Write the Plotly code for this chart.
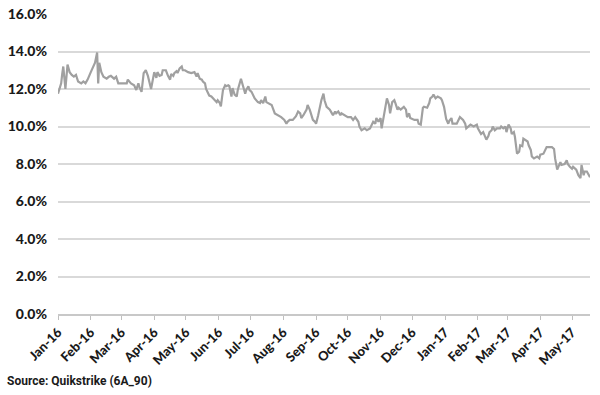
import plotly.graph_objects as go

dates = [
    "2016-01-01", "2016-01-02", "2016-01-04", "2016-01-05", "2016-01-06", "2016-01-07", "2016-01-08",
    "2016-01-10", "2016-01-12", "2016-01-14", "2016-01-16", "2016-01-18", "2016-01-20", "2016-01-23",
    "2016-01-25", "2016-01-27", "2016-01-29", "2016-02-01", "2016-02-05", "2016-02-07", "2016-02-08",
    "2016-02-09", "2016-02-11", "2016-02-13", "2016-02-16", "2016-02-18", "2016-02-20", "2016-02-23",
    "2016-02-25", "2016-02-27", "2016-03-01", "2016-03-04", "2016-03-06", "2016-03-07", "2016-03-10",
    "2016-03-13", "2016-03-15", "2016-03-17", "2016-03-18", "2016-03-20", "2016-03-22", "2016-03-24",
    "2016-03-26", "2016-03-29", "2016-03-31", "2016-04-01", "2016-04-03", "2016-04-04", "2016-04-06",
    "2016-04-08", "2016-04-09", "2016-04-12", "2016-04-14", "2016-04-16", "2016-04-17", "2016-04-19",
    "2016-04-20", "2016-04-22", "2016-04-23", "2016-04-25", "2016-04-27", "2016-04-28", "2016-04-30",
    "2016-05-03", "2016-05-06", "2016-05-09", "2016-05-11", "2016-05-12", "2016-05-14", "2016-05-16",
    "2016-05-17", "2016-05-19", "2016-05-20", "2016-05-22", "2016-05-23", "2016-05-25", "2016-05-27",
    "2016-05-28", "2016-05-30", "2016-05-31", "2016-06-02", "2016-06-03", "2016-06-05", "2016-06-07",
    "2016-06-08", "2016-06-10", "2016-06-11", "2016-06-13", "2016-06-14", "2016-06-16", "2016-06-18",
    "2016-06-19", "2016-06-21", "2016-06-22", "2016-06-24", "2016-06-26", "2016-06-27", "2016-06-29",
    "2016-06-30", "2016-07-02", "2016-07-05", "2016-07-08", "2016-07-10", "2016-07-11", "2016-07-13",
    "2016-07-15", "2016-07-16", "2016-07-18", "2016-07-21", "2016-07-24", "2016-07-27", "2016-07-30",
    "2016-08-02", "2016-08-04", "2016-08-05", "2016-08-07", "2016-08-10", "2016-08-13", "2016-08-15",
    "2016-08-17", "2016-08-18", "2016-08-20", "2016-08-23", "2016-08-24", "2016-08-26", "2016-08-28",
    "2016-08-29", "2016-08-31", "2016-09-01", "2016-09-03", "2016-09-05", "2016-09-06", "2016-09-08",
    "2016-09-09", "2016-09-11", "2016-09-14", "2016-09-16", "2016-09-17", "2016-09-19", "2016-09-20",
    "2016-09-22", "2016-09-24", "2016-09-25", "2016-09-28", "2016-10-01", "2016-10-04", "2016-10-06",
    "2016-10-08", "2016-10-09", "2016-10-11", "2016-10-12", "2016-10-14", "2016-10-17", "2016-10-19",
    "2016-10-22", "2016-10-24", "2016-10-25", "2016-10-27", "2016-10-28", "2016-10-30", "2016-11-01",
    "2016-11-02", "2016-11-04", "2016-11-06", "2016-11-07", "2016-11-09", "2016-11-10", "2016-11-12",
    "2016-11-14", "2016-11-15", "2016-11-17", "2016-11-18", "2016-11-20", "2016-11-23", "2016-11-25",
    "2016-11-26", "2016-11-28", "2016-11-29", "2016-12-03", "2016-12-06", "2016-12-07", "2016-12-09",
    "2016-12-11", "2016-12-12", "2016-12-15", "2016-12-17", "2016-12-18", "2016-12-20", "2016-12-21",
    "2016-12-23", "2016-12-25", "2016-12-28", "2016-12-29", "2016-12-31", "2017-01-02", "2017-01-04",
    "2017-01-05", "2017-01-07", "2017-01-08", "2017-01-12", "2017-01-15", "2017-01-18", "2017-01-20",
    "2017-01-21", "2017-01-25", "2017-01-28", "2017-01-31", "2017-02-01", "2017-02-04", "2017-02-06",
    "2017-02-09", "2017-02-11", "2017-02-12", "2017-02-14", "2017-02-15", "2017-02-17", "2017-02-19",
    "2017-02-22", "2017-02-23", "2017-02-25", "2017-02-27", "2017-02-28", "2017-03-02", "2017-03-04",
    "2017-03-05", "2017-03-07", "2017-03-08", "2017-03-10", "2017-03-12", "2017-03-13", "2017-03-15",
    "2017-03-16", "2017-03-18", "2017-03-20", "2017-03-21", "2017-03-23", "2017-03-24", "2017-03-26",
    "2017-03-29", "2017-03-31", "2017-04-01", "2017-04-04", "2017-04-07", "2017-04-12", "2017-04-14",
    "2017-04-15", "2017-04-17", "2017-04-18", "2017-04-20", "2017-04-21", "2017-04-24", "2017-04-26",
    "2017-04-27", "2017-04-29", "2017-05-01", "2017-05-02", "2017-05-05", "2017-05-07", "2017-05-09",
    "2017-05-10", "2017-05-12", "2017-05-13", "2017-05-15", "2017-05-17", "2017-05-18",
]

vol_pct = [
    11.75, 11.9, 12.3, 12.8, 13.2, 12.6, 12.0,
    13.3, 12.9, 12.75, 12.66, 12.75, 12.4, 12.3,
    12.4, 12.3, 12.5, 12.9, 13.4, 13.95, 12.3,
    13.4, 12.9, 12.65, 12.55, 12.65, 12.7, 12.55,
    12.65, 12.3, 12.3, 12.3, 12.3, 12.5, 12.3,
    12.2, 11.95, 12.3, 12.1, 11.85, 12.85, 13.0,
    12.7, 12.0, 12.66, 12.9, 12.6, 12.9, 12.7,
    12.75, 13.0, 13.0, 12.7, 12.5, 12.8, 12.7,
    12.85, 12.95, 12.85, 13.1, 13.2, 13.0, 13.0,
    12.9, 12.85, 12.9, 12.66, 12.85, 12.55, 12.5,
    12.4, 12.3, 12.0, 11.75, 11.65, 11.6, 11.5,
    11.4, 11.3, 11.4, 11.25, 11.07, 11.95, 12.2,
    12.15, 12.2, 12.15, 11.6, 12.05, 11.7, 11.6,
    11.95, 12.3, 12.55, 12.15, 11.75, 11.95, 12.15,
    11.95, 11.85, 11.5, 11.3, 11.25, 11.4, 11.25,
    11.6, 11.3, 11.25, 11.15, 10.7, 10.6, 10.5,
    10.35, 10.15, 10.25, 10.35, 10.35, 10.55, 10.8,
    10.7, 10.45, 10.6, 10.9, 11.15, 10.9, 10.6,
    10.35, 10.25, 10.15, 10.6, 11.15, 11.4, 11.75,
    11.4, 11.05, 10.9, 10.7, 10.6, 10.8, 10.7,
    10.8, 10.6, 10.7, 10.6, 10.5, 10.5, 10.35,
    10.5, 10.4, 10.25, 10.0, 9.8, 9.9, 9.8,
    9.9, 10.1, 10.25, 10.15, 10.45, 10.25, 10.45,
    9.9, 10.5, 11.15, 11.5, 11.15, 10.7, 11.3,
    11.4, 11.25, 10.9, 11.0, 10.9, 11.05, 10.9,
    10.5, 10.7, 10.45, 10.35, 10.35, 10.15, 10.1,
    11.0, 11.05, 11.0, 11.25, 11.5, 11.6, 11.7,
    11.5, 11.6, 11.5, 11.4, 11.05, 10.4, 10.15,
    10.3, 10.45, 10.15, 10.15, 10.5, 10.35, 10.15,
    9.9, 10.1, 10.0, 10.1, 9.9, 9.6, 9.7,
    9.3, 9.5, 9.7, 9.8, 10.0, 9.8, 9.9,
    9.9, 10.0, 9.9, 10.0, 9.7, 10.1, 9.9,
    9.6, 9.7, 9.45, 8.55, 8.65, 9.0, 8.95,
    9.35, 9.25, 9.2, 9.0, 8.75, 8.4, 8.3,
    8.4, 8.3, 8.5, 8.55, 8.9, 8.9, 8.8,
    8.3, 7.7, 7.85, 8.1, 7.95, 8.0, 8.2,
    8.0, 7.85, 7.75, 7.85, 7.7, 7.4, 7.25,
    7.95, 7.4, 7.6, 7.6, 7.4, 7.3,
]

y_ticks = [0, 2, 4, 6, 8, 10, 12, 14, 16]
y_tick_labels = ["0.0%", "2.0%", "4.0%", "6.0%", "8.0%", "10.0%", "12.0%", "14.0%", "16.0%"]
x_range = ["2016-01-01", "2017-05-18"]
source_text = "Source: Quikstrike (6A_90)"

fig = go.Figure()
fig.add_trace(go.Scatter(
    x=dates, y=vol_pct, mode="lines",
    line=dict(color="#a0a0a0", width=2.2),
    hoverinfo="skip", showlegend=False,
))

fig.update_layout(
    width=600, height=395,
    margin=dict(l=58, r=10, t=14, b=81),
    paper_bgcolor="white", plot_bgcolor="white",
    font=dict(family="Lato, Open Sans, sans-serif", color="#1a1a1a"),
    xaxis=dict(
        type="date", range=x_range, automargin=False,
        tick0="2016-01-01", dtick="M1", tickformat="%b-%y",
        tickangle=-45, ticks="outside", ticklen=4, tickcolor="#bfbfbf",
        showline=True, linecolor="#c8c8c8", linewidth=1.5,
        showgrid=False, zeroline=False,
        tickfont=dict(family="Lato", size=13, color="#1a1a1a", weight=900),
    ),
    yaxis=dict(
        range=[0, 16], tickvals=y_ticks, ticktext=y_tick_labels, automargin=False,
        showgrid=True, gridcolor="#d9d9d9", gridwidth=1.5,
        zeroline=False, showline=False, ticks="",
        ticklabelstandoff=10,
        tickfont=dict(family="Lato", size=14, color="#1a1a1a", weight=900),
    ),
)

fig.add_annotation(
    text=source_text, xref="paper", yref="paper",
    x=-0.1, y=-0.223, xanchor="left", yanchor="middle",
    showarrow=False,
    font=dict(family="Liberation Sans Narrow, Roboto, sans-serif", size=12, color="#1a1a1a", weight="bold"),
)

fig.write_html(
    "out.html",
    config={"displayModeBar": False},
    post_script="document.body.style.margin='0';document.body.style.overflow='hidden';",
)
